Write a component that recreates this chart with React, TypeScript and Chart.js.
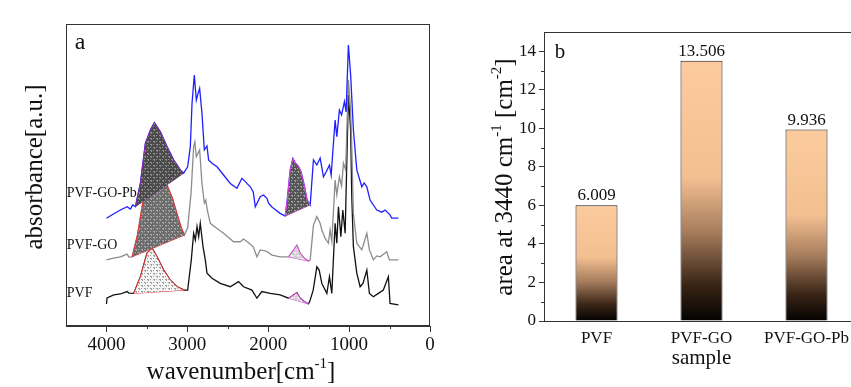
import React, { useEffect, useRef } from 'react';
import { Chart, registerables } from 'chart.js';

Chart.register(...registerables);

const FONT = "'Liberation Serif', 'Times New Roman', serif";

// ---------- Panel a : FTIR spectra (wavenumber [cm-1], absorbance [a.u.]) ----------
const pbWn = [4000, 3914, 3827, 3745, 3704, 3675, 3642, 3580, 3519, 3457, 3407, 3333, 3251, 3169, 3086, 3046, 2996, 2963, 2942, 2914, 2889, 2870, 2848, 2819, 2790, 2757, 2737, 2695, 2633, 2552, 2469, 2387, 2325, 2284, 2222, 2185, 2160, 2099, 2058, 2016, 1996, 1954, 1935, 1852, 1790, 1765, 1728, 1695, 1667, 1630, 1593, 1556, 1519, 1481, 1441, 1399, 1358, 1317, 1284, 1243, 1222, 1173, 1152, 1120, 1093, 1058, 1037, 1009, 981, 947, 905, 843, 815, 781, 741, 658, 596, 556, 494, 473, 391];
const pbAbs = [35.7, 37.1, 38.4, 39.5, 38.7, 40.1, 39.5, 47.3, 60.5, 64.9, 67.4, 64.3, 59.4, 55.0, 51.7, 50.6, 52.7, 59.4, 73.7, 83.1, 74.8, 76.8, 78.7, 70.4, 58.3, 59.6, 55.0, 53.9, 52.7, 50.0, 47.2, 45.6, 48.9, 47.8, 46.1, 44.4, 39.5, 42.8, 43.4, 42.3, 40.7, 39.4, 39.0, 37.3, 36.4, 41.7, 51.7, 55.5, 54.0, 53.0, 51.0, 46.7, 41.7, 40.1, 55.0, 53.3, 55.6, 49.4, 51.0, 53.3, 50.0, 68.2, 62.7, 71.5, 69.9, 74.3, 70.9, 93.0, 83.1, 64.9, 51.7, 46.1, 47.4, 46.1, 41.7, 38.4, 37.7, 38.4, 36.8, 35.7, 35.7];

const goWn = [4000, 3914, 3827, 3745, 3722, 3683, 3617, 3556, 3506, 3432, 3333, 3251, 3185, 3123, 3074, 3037, 2996, 2954, 2922, 2907, 2889, 2848, 2819, 2790, 2772, 2753, 2716, 2633, 2552, 2428, 2346, 2305, 2243, 2185, 2140, 2099, 2037, 1996, 1954, 1852, 1749, 1704, 1646, 1605, 1556, 1502, 1481, 1441, 1399, 1358, 1337, 1296, 1256, 1235, 1214, 1173, 1152, 1120, 1093, 1070, 1043, 1009, 981, 967, 947, 905, 843, 781, 749, 700, 658, 617, 535, 502, 391];
const goAbs = [21.9, 22.5, 22.9, 23.8, 22.8, 22.9, 30.1, 40.1, 44.4, 46.0, 46.5, 46.7, 42.4, 36.8, 32.5, 30.1, 32.5, 44.0, 59.4, 61.0, 56.1, 58.3, 47.2, 40.7, 41.7, 38.4, 34.0, 32.3, 30.7, 27.9, 27.9, 28.8, 27.6, 26.2, 22.9, 25.2, 24.9, 24.3, 23.5, 22.9, 22.9, 24.5, 26.8, 24.1, 22.5, 21.5, 21.9, 33.4, 36.2, 34.0, 31.8, 29.0, 27.4, 31.8, 28.1, 48.3, 43.4, 49.4, 46.4, 53.9, 51.7, 81.5, 71.5, 59.4, 37.3, 27.4, 25.2, 30.7, 25.2, 21.9, 23.2, 22.9, 24.6, 21.9, 21.9];

const pvfWn = [4000, 3992, 3910, 3827, 3745, 3722, 3663, 3580, 3498, 3436, 3374, 3293, 3210, 3127, 3037, 2996, 2951, 2922, 2901, 2880, 2860, 2840, 2806, 2778, 2757, 2695, 2593, 2469, 2367, 2305, 2201, 2140, 2078, 1975, 1852, 1749, 1704, 1646, 1605, 1556, 1502, 1481, 1444, 1399, 1370, 1337, 1275, 1243, 1214, 1173, 1152, 1132, 1102, 1078, 1049, 1009, 981, 967, 947, 905, 864, 827, 781, 749, 700, 638, 577, 515, 494, 391];
const pvfAbs = [7.3, 9.3, 10.3, 10.6, 11.4, 10.9, 10.8, 16.3, 24.1, 25.7, 22.9, 18.5, 15.2, 13.0, 11.9, 11.9, 21.9, 30.7, 28.5, 32.9, 29.6, 34.0, 26.3, 21.9, 17.5, 15.8, 14.1, 13.0, 14.7, 13.0, 11.9, 9.2, 11.4, 10.8, 10.3, 9.2, 9.9, 11.0, 9.2, 8.1, 7.3, 8.6, 11.9, 19.6, 18.5, 14.1, 10.8, 16.3, 10.8, 34.0, 27.4, 39.5, 29.6, 38.4, 30.7, 76.5, 64.9, 42.8, 26.3, 17.5, 13.0, 14.2, 18.5, 10.8, 9.7, 10.8, 11.9, 16.3, 7.5, 7.0];

// integrated peak ranges (wavenumber from, to)
const pbPeaks = [[3642, 3046], [1790, 1481]];
const goPeaks = [[3683, 3037], [1749, 1502]];
const pvfPeaks = [[3663, 3037], [1749, 1502]];

const xTicksA = [4000, 3000, 2000, 1000, 0];
const xMinorA = [3500, 2500, 1500, 500];
const sampleNames = ['PVF-GO-Pb', 'PVF-GO', 'PVF'];
const sampleLabelWn = 4490;
const sampleLabelAbs = [44.0, 26.8, 10.9];

// ---------- Panel b : peak area at 3440 cm-1 ----------
const barLabels = ['PVF', 'PVF-GO', 'PVF-GO-Pb'];
const barAreas = [6.009, 13.506, 9.936];
const yTicksB = [0, 2, 4, 6, 8, 10, 12, 14];
const yMinorB = [1, 3, 5, 7, 9, 11, 13];

type Part = { t: string; sup?: boolean };
const xTitleA: Part[] = [{ t: 'wavenumber[cm' }, { t: '-1', sup: true }, { t: ']' }];
const yTitleA: Part[] = [{ t: 'absorbance[a.u.]' }];
const yTitleB: Part[] = [{ t: 'area at 3440 cm' }, { t: '-1', sup: true }, { t: ' [cm' }, { t: '-2', sup: true }, { t: ']' }];
const xTitleB: Part[] = [{ t: 'sample' }];

function drawRich(ctx: CanvasRenderingContext2D, parts: Part[], cx: number, cy: number, size: number, rot: number) {
  ctx.save();
  ctx.translate(cx, cy);
  ctx.rotate(rot);
  const main = `${size}px ${FONT}`;
  const sup = `${Math.round(size * 0.6)}px ${FONT}`;
  let w = 0;
  parts.forEach((p) => { ctx.font = p.sup ? sup : main; w += ctx.measureText(p.t).width; });
  let x = -w / 2;
  ctx.textBaseline = 'middle';
  ctx.textAlign = 'left';
  ctx.fillStyle = '#111';
  parts.forEach((p) => {
    ctx.font = p.sup ? sup : main;
    ctx.fillText(p.t, x, p.sup ? -size * 0.33 : 0);
    x += ctx.measureText(p.t).width;
  });
  ctx.restore();
}

function makePattern(ctx: CanvasRenderingContext2D, base: string, mark: string) {
  const c = document.createElement('canvas');
  c.width = 6; c.height = 6;
  const g = c.getContext('2d')!;
  g.fillStyle = base; g.fillRect(0, 0, 6, 6);
  g.fillStyle = mark;
  g.fillRect(0, 0, 2, 1); g.fillRect(1, 1, 1, 1);
  g.fillRect(3, 3, 2, 1); g.fillRect(4, 4, 1, 1);
  g.fillRect(3, 0, 1, 1); g.fillRect(0, 3, 1, 1);
  return ctx.createPattern(c, 'repeat') as CanvasPattern;
}

const toPts = (wn: number[], ab: number[]) => wn.map((w, i) => ({ x: w, y: ab[i] })).reverse();
const peakPts = (wn: number[], ab: number[], r: number[]) => toPts(wn, ab).filter((p) => p.x <= r[0] && p.x >= r[1]);

const frameA = {
  id: 'frameA',
  afterDraw(chart: any) {
    const { ctx, chartArea: ca, scales } = chart;
    const sx = scales.x, sy = scales.y;
    ctx.save();
    ctx.strokeStyle = '#333';
    ctx.lineWidth = 1;
    ctx.strokeRect(Math.round(ca.left) + 0.5, Math.round(ca.top) + 0.5, Math.round(ca.right - ca.left) - 1, Math.round(ca.bottom - ca.top) - 1);
    ctx.beginPath();
    xMinorA.forEach((v) => {
      const px = Math.round(sx.getPixelForValue(v)) + 0.5;
      ctx.moveTo(px, ca.bottom); ctx.lineTo(px, ca.bottom + 3);
    });
    ctx.stroke();
    ctx.fillStyle = '#111';
    ctx.font = `14px ${FONT}`;
    ctx.textAlign = 'left';
    ctx.textBaseline = 'middle';
    sampleNames.forEach((n, i) => ctx.fillText(n, sx.getPixelForValue(sampleLabelWn), sy.getPixelForValue(sampleLabelAbs[i])));
    ctx.font = `24px ${FONT}`;
    ctx.textAlign = 'center';
    ctx.fillText('a', ca.left + 14, ca.top + 19);
    ctx.restore();
    drawRich(ctx, yTitleA, 35, 167, 25, -Math.PI / 2);
    drawRich(ctx, xTitleA, 241, 372, 25, 0);
  },
};

const frameB = {
  id: 'frameB',
  afterDraw(chart: any) {
    const { ctx, chartArea: ca, scales } = chart;
    const sy = scales.y;
    ctx.save();
    ctx.strokeStyle = '#333';
    ctx.lineWidth = 1;
    ctx.beginPath();
    ctx.moveTo(ca.left, Math.round(ca.top) + 0.5); ctx.lineTo(ca.right, Math.round(ca.top) + 0.5);
    yMinorB.forEach((v) => {
      const py = Math.round(sy.getPixelForValue(v)) + 0.5;
      ctx.moveTo(ca.left - 3, py); ctx.lineTo(ca.left, py);
    });
    ctx.stroke();
    const meta = chart.getDatasetMeta(0);
    ctx.fillStyle = '#111';
    ctx.font = `17px ${FONT}`;
    ctx.textAlign = 'center';
    ctx.textBaseline = 'bottom';
    meta.data.forEach((el: any, i: number) => ctx.fillText(barAreas[i].toFixed(3), el.x, el.y - 1));
    ctx.font = `21px ${FONT}`;
    ctx.textBaseline = 'middle';
    ctx.fillText('b', ca.left + 16, 52);
    ctx.restore();
    drawRich(ctx, yTitleB, 35, 177, 25, -Math.PI / 2);
    drawRich(ctx, xTitleB, (chart.scales.x.getPixelForValue(1)), 358, 21, 0);
  },
};

export default function App() {
  const refA = useRef<HTMLCanvasElement>(null);
  const refB = useRef<HTMLCanvasElement>(null);

  useEffect(() => {
    const ctxA = refA.current!.getContext('2d')!;
    const patPbBig = makePattern(ctxA, '#4a4a4a', '#8e8e8e');
    const patGoBig = makePattern(ctxA, '#6c6c6c', '#a8a8a8');
    const patPvfBig = makePattern(ctxA, '#f4f4f4', '#a0a0a0');
    const patPbSmall = makePattern(ctxA, '#555555', '#a0a0a0');
    const patLight = makePattern(ctxA, '#d2d2d2', '#f2f2f2');

    const region = (wn: number[], ab: number[], r: number[], pat: CanvasPattern, edge: string) => {
      const p = peakPts(wn, ab, r);
      return [
        { data: p, borderColor: edge, borderWidth: 1, backgroundColor: pat, fill: '+1', pointRadius: 0, tension: 0 },
        { data: [p[0], p[p.length - 1]], borderColor: edge, borderWidth: 1, fill: false, pointRadius: 0, tension: 0 },
      ];
    };

    const datasets: any[] = [
      ...region(pbWn, pbAbs, pbPeaks[0], patPbBig, '#8a2aa8'),
      ...region(pbWn, pbAbs, pbPeaks[1], patPbSmall, '#e040e0'),
      ...region(goWn, goAbs, goPeaks[0], patGoBig, '#ee3030'),
      ...region(goWn, goAbs, goPeaks[1], patLight, '#e040e0'),
      ...region(pvfWn, pvfAbs, pvfPeaks[0], patPvfBig, '#ee3030'),
      ...region(pvfWn, pvfAbs, pvfPeaks[1], patLight, '#e040e0'),
      { label: 'PVF-GO-Pb', data: toPts(pbWn, pbAbs), borderColor: '#1f1fff', borderWidth: 1.3, pointRadius: 0, tension: 0, fill: false },
      { label: 'PVF-GO', data: toPts(goWn, goAbs), borderColor: '#8c8c8c', borderWidth: 1.3, pointRadius: 0, tension: 0, fill: false },
      { label: 'PVF', data: toPts(pvfWn, pvfAbs), borderColor: '#111111', borderWidth: 1.3, pointRadius: 0, tension: 0, fill: false },
    ];

    const chartA = new Chart(refA.current!, {
      type: 'line',
      data: { datasets },
      options: {
        animation: false,
        responsive: false,
        maintainAspectRatio: false,
        devicePixelRatio: 1,
        layout: { padding: { left: 66, top: 24, right: 40, bottom: 0 } },
        plugins: { legend: { display: false }, tooltip: { enabled: false } },
        scales: {
          x: {
            type: 'linear',
            min: 0,
            max: 4500,
            reverse: true,
            afterBuildTicks: (s: any) => { s.ticks = xTicksA.map((v) => ({ value: v })); },
            afterFit: (s: any) => { s.height = 61; },
            grid: { drawOnChartArea: false, tickLength: 6, color: '#333' },
            border: { display: true, color: '#333' },
            ticks: { font: { family: FONT, size: 19 }, color: '#111', padding: 2, maxRotation: 0, autoSkip: false, callback: (v: any) => String(v) },
          },
          y: { type: 'linear', display: false, min: 0, max: 100 },
        },
      } as any,
      plugins: [frameA],
    });

    const chartB = new Chart(refB.current!, {
      type: 'bar',
      data: {
        labels: barLabels,
        datasets: [{
          data: barAreas,
          borderColor: '#1a1a1a',
          borderWidth: 1,
          barPercentage: 0.4,
          categoryPercentage: 1,
          backgroundColor: (c: any) => {
            const ch = c.chart;
            if (!ch.chartArea || c.raw === undefined) return '#f5c193';
            const top = ch.scales.y.getPixelForValue(c.raw);
            const bot = ch.scales.y.getPixelForValue(0);
            const g = ch.ctx.createLinearGradient(0, top, 0, bot);
            g.addColorStop(0, '#fccb9d');
            g.addColorStop(0.45, '#f3bf91');
            g.addColorStop(0.66, '#a57c5c');
            g.addColorStop(0.86, '#3a2516');
            g.addColorStop(1, '#030201');
            return g;
          },
        }],
      },
      options: {
        animation: false,
        responsive: false,
        maintainAspectRatio: false,
        devicePixelRatio: 1,
        layout: { padding: { left: 0, top: 32, right: 11, bottom: 0 } },
        plugins: { legend: { display: false }, tooltip: { enabled: false } },
        scales: {
          x: {
            afterFit: (s: any) => { s.height = 66; },
            grid: { drawOnChartArea: false, drawTicks: false },
            border: { display: true, color: '#333' },
            ticks: { font: { family: FONT, size: 17 }, color: '#111', padding: 7, maxRotation: 0 },
          },
          y: {
            min: 0,
            max: 15,
            afterBuildTicks: (s: any) => { s.ticks = yTicksB.map((v) => ({ value: v })); },
            afterFit: (s: any) => { s.width = 74; },
            grid: { drawOnChartArea: false, tickLength: 5, color: '#333' },
            border: { display: true, color: '#333' },
            ticks: { font: { family: FONT, size: 17 }, color: '#111', padding: 3 },
          },
        },
      } as any,
      plugins: [frameB],
    });

    return () => { chartA.destroy(); chartB.destroy(); };
  }, []);

  return (
    <div style={{ position: 'fixed', left: 0, top: 0, width: 851, height: 387, overflow: 'hidden', background: '#ffffff' }}>
      <canvas ref={refA} width={470} height={387} style={{ position: 'absolute', left: 0, top: 0, width: 470, height: 387 }} />
      <canvas ref={refB} width={400} height={387} style={{ position: 'absolute', left: 470, top: 0, width: 400, height: 387 }} />
    </div>
  );
}
